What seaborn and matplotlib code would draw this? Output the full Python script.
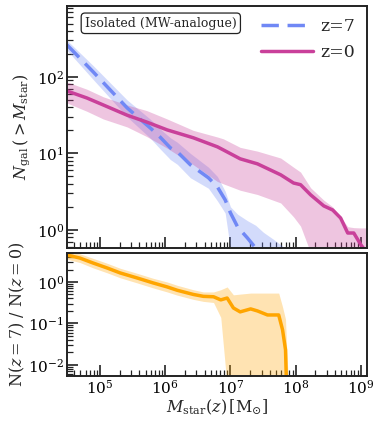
import matplotlib
matplotlib.use("Agg")
import matplotlib.pyplot as plt
import seaborn as sns
import numpy as np
import pandas as pd

# z=7 cumulative counts (median and 16-84 band)
m_z7 = [3.1e4, 7.8e4, 2.6e5, 5.9e5, 8.3e5, 1.2e6, 1.53e6, 2.43e6, 4.6e6,
        6.3e6, 8.3e6, 1.0e7, 1.29e7, 1.82e7, 2.43e7, 3.2e7, 4.6e7, 6.5e7, 7.5e7]
n_z7 = [263, 117, 39.4, 21.5, 16.4, 11.8, 10.5, 7.1, 4.8,
        3.65, 2.47, 1.67, 1.09, 0.785, 0.58, 0.45, 0.45, 0.45, 0.45]
lo_z7 = [224, 93, 30, 15.8, 11.5, 8.3, 7.2, 4.8, 3.5,
         2.4, 1.66, 0.56, 0.45, 0.45, 0.45, 0.45, 0.45, 0.45, 0.45]
hi_z7 = [302, 141, 50, 28, 21, 16, 14, 10, 6.6,
         5.0, 3.2, 2.0, 1.6, 1.32, 1.15, 0.93, 0.75, 0.6, 0.45]

# z=0 cumulative counts
m_z0 = [3.1e4, 6.3e4, 1.12e5, 2.6e5, 5.2e5, 1.07e6, 2.7e6, 6.3e6, 7.8e6,
        1.41e7, 2.6e7, 5.9e7, 9.3e7, 1.19e8, 1.7e8, 2.7e8, 3.7e8, 4.9e8,
        6.3e8, 7.8e8, 1.0e9, 1.24e9]
n_z0 = [65.6, 53, 43, 31.6, 25.7, 20.3, 16, 12.2, 11.1, 8.5, 7.3, 5.25, 4.1,
        3.9, 2.87, 2.06, 1.82, 1.43, 0.91, 0.91, 0.64, 0.5]
lo_z0 = [45.7, 35.5, 28.2, 22.2, 16.6, 11.7, 7.1, 4.3, 4.0, 3.3, 2.9, 2.25,
         1.48, 1.12, 0.5, 0.5, 0.5, 0.5, 0.5, 0.5, 0.5, 0.5]
hi_z0 = [86, 69, 55, 43, 36.3, 28.2, 20, 16.4, 15.5, 12, 10.7, 8.7, 6.6, 5.7,
         3.55, 2.45, 2.0, 1.48, 1.1, 1.07, 1.06, 1.06]

# ratio N(z=7)/N(z=0)
m_rat = [3.1e4, 4.9e4, 7.8e4, 1.29e5, 2.04e5, 3.7e5, 6.5e5, 1.07e6, 1.53e6,
         2.7e6, 3.85e6, 5.5e6, 7.1e6, 8.9e6, 1.11e7, 1.41e7, 2.04e7, 2.6e7,
         3.7e7, 5.5e7, 6.3e7, 7.0e7, 7.25e7, 7.8e7]
r_med = [4.47, 3.78, 2.87, 2.17, 1.65, 1.25, 0.95, 0.76, 0.63, 0.5, 0.45,
         0.44, 0.37, 0.41, 0.236, 0.19, 0.224, 0.2, 0.16, 0.16, 0.07, 0.023,
         0.003, 0.003]
r_lo = [3.55, 2.95, 2.19, 1.66, 1.26, 0.95, 0.72, 0.575, 0.48, 0.38, 0.34,
        0.32, 0.14, 0.003, 0.003, 0.003, 0.003, 0.003, 0.003, 0.003, 0.003,
        0.003, 0.003, 0.003]
r_hi = [5.25, 4.79, 3.72, 2.82, 2.14, 1.62, 1.23, 1.0, 0.83, 0.65, 0.575,
        0.575, 0.65, 0.76, 0.49, 0.51, 0.54, 0.54, 0.54, 0.54, 0.25, 0.126,
        0.03, 0.003]

c7, c0, cr = "#7088f5", "#c9409a", "#ffa500"

sns.set_style("ticks")
plt.rcParams["font.family"] = ["DejaVu Serif"]
plt.rcParams["mathtext.fontset"] = "dejavuserif"

fig = plt.figure(figsize=(3.74, 4.21), dpi=100)
ax1 = fig.add_axes([0.179, 0.411, 0.802, 0.575])
ax2 = fig.add_axes([0.179, 0.107, 0.802, 0.292], sharex=ax1)

ax1.fill_between(m_z7, lo_z7, hi_z7, color=c7, alpha=0.3, lw=0)
ax1.fill_between(m_z0, lo_z0, hi_z0, color=c0, alpha=0.3, lw=0)
d7 = pd.DataFrame({"m": m_z7, "n": n_z7})
d0 = pd.DataFrame({"m": m_z0, "n": n_z0})
sns.lineplot(data=d7, x="m", y="n", ax=ax1, color=c7, lw=2.5,
             label="z=7", estimator=None, sort=False)
ax1.lines[-1].set_dashes([5, 2.5])
sns.lineplot(data=d0, x="m", y="n", ax=ax1, color=c0, lw=2.5,
             label="z=0", estimator=None, sort=False)

ax2.fill_between(m_rat, r_lo, r_hi, color=cr, alpha=0.3, lw=0)
dr = pd.DataFrame({"m": m_rat, "r": r_med})
sns.lineplot(data=dr, x="m", y="r", ax=ax2, color=cr, lw=2.5,
             estimator=None, sort=False, legend=False)

for ax in (ax1, ax2):
    ax.set_xscale("log")
    ax.set_yscale("log")
    ax.tick_params(which="both", direction="in", labelsize=11, pad=2,
                   colors="#222222", labelcolor="black")
    ax.tick_params(which="major", length=8, width=1.2)
    ax.tick_params(which="minor", length=4.5, width=0.9)
    for s in ax.spines.values():
        s.set_linewidth(1.4)
        s.set_color("#222222")

ax1.set_xlim(3.1e4, 1.24e9)
ax1.set_ylim(0.58, 850)
ax2.set_ylim(0.0054, 5.0)
ax1.tick_params(labelbottom=False)
ax1.set_xlabel("")

ax1.set_ylabel(r"$N_{\rm gal}\,(>M_{\rm star})$", fontsize=11.5, labelpad=3)
ax2.set_ylabel(r"N$(z=7)$ / N$(z=0)$", fontsize=11.5, labelpad=1)
ax2.set_xlabel(r"$M_{\rm star}(z)\,[{\rm M}_{\odot}]$", fontsize=11.5,
               labelpad=1)

ax1.legend(loc="upper right", frameon=False, fontsize=12.5, handlelength=3.0,
           borderaxespad=0.3, handletextpad=0.4, labelspacing=0.5)
ax1.text(0.06, 0.955, "Isolated (MW-analogue)", transform=ax1.transAxes,
         fontsize=9, va="top", ha="left",
         bbox=dict(boxstyle="round,pad=0.3", fc="white", ec="#222222", lw=0.9))

fig.savefig("out.png", dpi=100)
